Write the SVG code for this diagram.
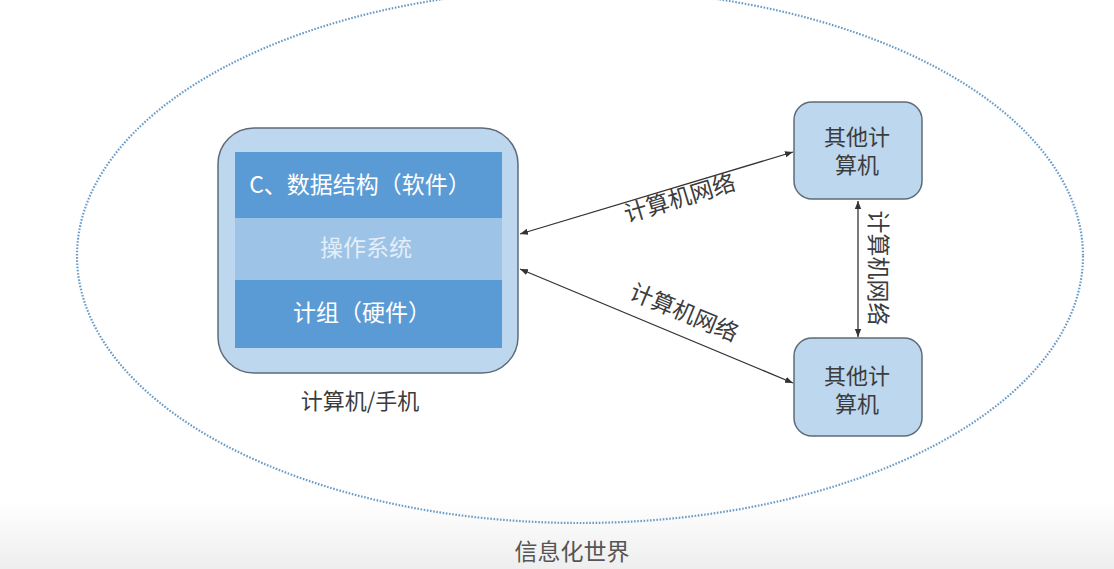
<svg xmlns="http://www.w3.org/2000/svg" width="1114" height="569" viewBox="0 0 1114 569">
<defs>
<linearGradient id="bg" x1="0" y1="0" x2="0" y2="1">
<stop offset="0" stop-color="#ffffff"/>
<stop offset="1" stop-color="#eeeeee"/>
</linearGradient>
<marker id="ah" viewBox="0 0 10 10" refX="10" refY="5" markerWidth="8" markerHeight="8" markerUnits="userSpaceOnUse" orient="auto-start-reverse">
<path d="M0,1 L10,5 L0,9 z" fill="#333"/>
</marker>
<style>
.cjk{font-family:"Noto Sans CJK SC","Noto Sans",sans-serif;}
.band{fill:#5b9bd5;}
.mid{fill:#9dc3e6;}
.wt{fill:#ffffff;font-size:23px;text-anchor:middle;}
.gt{fill:#3c3c3c;font-size:23px;text-anchor:middle;}
.nt{fill:#3c3c3c;font-size:22px;text-anchor:middle;}
.node{fill:#bdd7ee;stroke:#5f6b78;stroke-width:1.5;}
.conn{stroke:#333;stroke-width:1.3;fill:none;marker-start:url(#ah);marker-end:url(#ah);}
</style>
</defs>
<rect x="0" y="0" width="1114" height="569" fill="#ffffff"/>
<rect x="0" y="500" width="1114" height="69" fill="url(#bg)"/>
<g id="world">
<ellipse cx="580" cy="256" rx="503" ry="267" fill="none" stroke="#6a9cc8" stroke-width="2.2" stroke-dasharray="1.6 1.6"/>
<text class="cjk" x="572" y="560" font-size="23" fill="#555" text-anchor="middle">信息化世界</text>
</g>
<g id="computer">
<rect class="node" x="218" y="128" width="300" height="245" rx="36"/>
<rect class="band" x="235" y="152" width="267" height="66"/>
<rect class="mid" x="235" y="218" width="267" height="62"/>
<rect class="band" x="235" y="280" width="267" height="68"/>
<text class="cjk wt" x="360" y="193">C、数据结构（软件）</text>
<text class="cjk wt" x="366" y="256" style="fill:#e4eef8">操作系统</text>
<text class="cjk wt" x="362" y="321">计组（硬件）</text>
<text class="cjk gt" x="360" y="409" style="font-size:22px">计算机/手机</text>
</g>
<g id="other1">
<rect class="node" x="794" y="102" width="128" height="97" rx="18"/>
<text class="cjk nt" x="857" y="145">其他计<tspan x="857" dy="28">算机</tspan></text>
</g>
<g id="other2">
<rect class="node" x="794" y="338" width="128" height="98" rx="18"/>
<text class="cjk nt" x="857" y="384">其他计<tspan x="857" dy="28">算机</tspan></text>
</g>
<g id="connectors">
<line class="conn" x1="520" y1="234" x2="793" y2="152"/>
<line class="conn" x1="520" y1="269" x2="793" y2="383"/>
<line class="conn" x1="858" y1="201" x2="858" y2="337"/>
<text class="cjk gt" transform="translate(682,206) rotate(-16.8)">计算机网络</text>
<text class="cjk gt" transform="translate(681,320) rotate(22.5)">计算机网络</text>
<text class="cjk gt" transform="translate(870,268) rotate(90)">计算机网络</text>
</g>
</svg>
